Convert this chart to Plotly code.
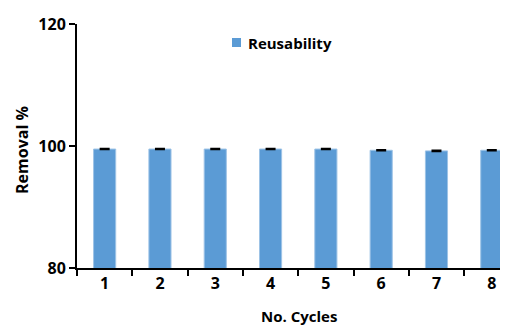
import plotly.graph_objects as go

cycles = ["1", "2", "3", "4", "5", "6", "7", "8"]
removal = [99.5, 99.5, 99.5, 99.5, 99.5, 99.3, 99.2, 99.3]
errors = [0.05, 0.05, 0.05, 0.05, 0.05, 0.05, 0.05, 0.05]
series_name = "Reusability"

FONT = "Open Sans"
BAR_COLOR = "#5B9BD5"
# figure sits 8px inside the page (default body margin), so size is reduced by 8
W, H = 500, 319
L, R, T, B = 69, 2, 16, 59
PW, PH = W - L - R, H - T - B

def px(xf):
    return (xf - L) / PW

def py(yf):
    return (H - B - yf) / PH

fig = go.Figure()
fig.add_trace(go.Bar(
    x=cycles, y=removal, name=series_name,
    marker=dict(color=BAR_COLOR, line=dict(color="#9DC3E6", width=1)),
    width=0.4,
    error_y=dict(type="data", array=errors, visible=True, color="black", thickness=2, width=5),
    showlegend=False,
))

fig.update_layout(
    width=W, height=H,
    margin=dict(l=L, r=R, t=T, b=B),
    paper_bgcolor="white", plot_bgcolor="white",
    font=dict(family=FONT, color="black"),
    xaxis=dict(
        range=[-0.5, 7.257], showline=True, linecolor="black", linewidth=2,
        ticks="outside", tickson="boundaries", ticklen=6, tickwidth=2, tickcolor="black",
        tickfont=dict(family=FONT, size=16, weight="bold"), showgrid=False,
    ),
    yaxis=dict(
        range=[80, 120], tickvals=[80, 100, 120], showline=True, linecolor="black", linewidth=2,
        ticks="outside", ticklen=6, tickwidth=2, tickcolor="black",
        tickfont=dict(family=FONT, size=16, weight="bold"), showgrid=False, zeroline=False,
    ),
    shapes=[dict(type="rect", xref="paper", yref="paper",
                 x0=px(224), x1=px(233), y0=py(39), y1=py(30),
                 fillcolor=BAR_COLOR, line=dict(width=0))],
    annotations=[
        dict(text=series_name, xref="paper", yref="paper", x=px(238), y=py(35),
             xanchor="left", yanchor="middle", showarrow=False,
             font=dict(family=FONT, size=15, weight="bold")),
        dict(text="No. Cycles", xref="paper", yref="paper", x=px(291), y=py(308),
             xanchor="center", yanchor="middle", showarrow=False,
             font=dict(family=FONT, size=15, weight="bold")),
        dict(text="Removal %", xref="paper", yref="paper", x=px(14), y=py(142),
             xanchor="center", yanchor="middle", showarrow=False, textangle=-90,
             font=dict(family=FONT, size=16, weight="bold")),
    ],
)

fig.write_html("out.html")
